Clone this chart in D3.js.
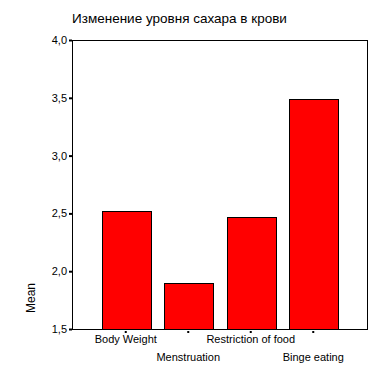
<!DOCTYPE html>
<html><head><meta charset="utf-8">
<script src="https://cdn.jsdelivr.net/npm/d3@7"></script>
<style>body{margin:0;background:#fff}svg{display:block}text{font-family:"Liberation Sans",Arial,sans-serif;fill:#000}</style>
</head><body>
<script>
const title = "Изменение уровня сахара в крови";
const categories = ["Body Weight","Menstruation","Restriction of food","Binge eating"];
const means = [2.52, 1.90, 2.47, 3.49];
const yTicks = [1.5, 2.0, 2.5, 3.0, 3.5, 4.0];
const yLabel = "Mean";

const W = 388, H = 378;
const m = {left: 72, right: 21, top: 40, bottom: 49};
const svg = d3.select("body").append("svg").attr("width", W).attr("height", H);
const x = d3.scaleBand().domain(categories).range([m.left, W - m.right]).paddingInner(0.224).paddingOuter(0.472);
const y = d3.scaleLinear().domain([1.5, 4.0]).range([H - m.bottom, m.top]);

svg.append("text").attr("x", 72).attr("y", 23).attr("font-size", 13.5).text(title);

// frame
svg.append("rect").attr("x", m.left + 0.5).attr("y", m.top + 0.5)
  .attr("width", W - m.right - m.left).attr("height", H - m.bottom - m.top)
  .attr("fill", "none").attr("stroke", "#000").attr("stroke-width", 1);

// bars
svg.selectAll("rect.bar").data(means).join("rect").attr("class", "bar")
  .attr("x", (d, i) => Math.round(x(categories[i])) + 0.5)
  .attr("y", d => Math.round(y(d)) + 0.5)
  .attr("width", Math.round(x.bandwidth()))
  .attr("height", d => Math.round(y(1.5)) - Math.round(y(d)))
  .attr("fill", "#ff0000").attr("stroke", "#000").attr("stroke-width", 1);

// y axis
const yAxis = d3.axisLeft(y).tickValues(yTicks).tickSize(3).tickPadding(2)
  .tickFormat(d => d3.format(".1f")(d).replace(".", ","));
const gy = svg.append("g").attr("transform", `translate(${m.left},0)`).call(yAxis);
gy.select(".domain").remove();
gy.selectAll(".tick line").attr("stroke", "#000").attr("stroke-width", 2);
gy.selectAll(".tick text").attr("font-size", 11).attr("font-family", '"Liberation Sans",Arial,sans-serif');

// x axis
const xAxis = d3.axisBottom(x).tickSize(0).tickPadding(0);
const gx = svg.append("g").attr("transform", `translate(0,${H - m.bottom})`).call(xAxis);
gx.select(".domain").remove();
gx.selectAll(".tick line").remove();
gx.selectAll(".tick").append("rect").attr("x", -1).attr("y", 2).attr("width", 2).attr("height", 2).attr("fill", "#000");
gx.selectAll(".tick text").attr("font-size", 11).attr("font-family", '"Liberation Sans",Arial,sans-serif')
  .attr("dy", null)
  .attr("y", (d, i) => i % 2 === 0 ? 14 : 32);

svg.append("text").attr("transform", "translate(35,298) rotate(-90)")
  .attr("text-anchor", "middle").attr("font-size", 12).text(yLabel);
</script>
</body></html>
